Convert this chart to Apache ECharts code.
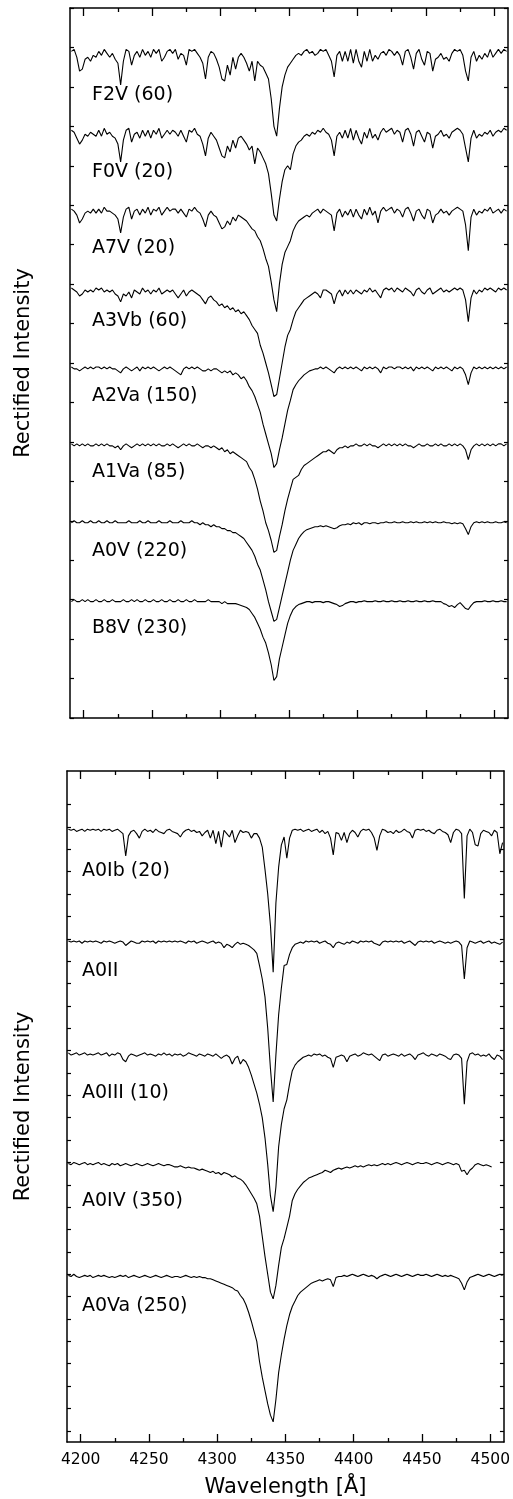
<!DOCTYPE html>
<html>
<head>
<meta charset="utf-8">
<script src="https://cdn.jsdelivr.net/npm/echarts@6.0.0/dist/echarts.min.js"></script>
<style>
html,body{margin:0;padding:0;background:#ffffff;}
#chart{width:513px;height:1499px;}
</style>
</head>
<body>
<div id="chart"></div>
<script>
// ---------------- DATA ----------------
// wavelength grid (Angstrom)
const wavelengths = [
4191,4193,4195,4197,4199,4201,4203,4205,4207,4209,
4211,4213,4215,4217,4219,4221,4223,4225,4227,4229,
4231,4233,4235,4237,4239,4241,4243,4245,4247,4249,
4251,4253,4255,4257,4259,4261,4263,4265,4267,4269,
4271,4273,4275,4277,4279,4281,4283,4285,4287,4289,
4291,4293,4295,4297,4299,4301,4303,4305,4307,4309,
4311,4313,4315,4317,4319,4321,4323,4325,4327,4329,
4331,4333,4335,4337,4339,4341,4343,4345,4347,4349,
4351,4353,4355,4357,4359,4361,4363,4365,4367,4369,
4371,4373,4375,4377,4379,4381,4383,4385,4387,4389,
4391,4393,4395,4397,4399,4401,4403,4405,4407,4409,
4411,4413,4415,4417,4419,4421,4423,4425,4427,4429,
4431,4433,4435,4437,4439,4441,4443,4445,4447,4449,
4451,4453,4455,4457,4459,4461,4463,4465,4467,4469,
4471,4473,4475,4477,4479,4481,4483,4485,4487,4489,
4491,4493,4495,4497,4499,4501,4503,4505,4507,4509];

const xMajorTicks = [4200,4250,4300,4350,4400,4450,4500];
const xMinorTicks = [4225,4275,4325,4375,4425,4475];
const yTicksBottomPanel = [0,0.1,0.2,0.3,0.4,0.5,0.6,0.7,0.8,0.9,1.0,1.1,1.2,1.3,1.4,1.5,1.6,1.7,1.8,1.9,2.0,2.1,2.2,2.3,2.4,2.5,2.6,2.7,2.8];

const topNames = ['F2V (60)','F0V (20)','A7V (20)','A3Vb (60)','A2Va (150)','A1Va (85)','A0V (220)','B8V (230)'];
const topOffsets = [2.4, 2.0, 1.6, 1.2, 0.8, 0.4, 0.0, -0.4];
const bottomNames = ['A0Ib (20)','A0II','A0III (10)','A0IV (350)','A0Va (250)'];
const bottomOffsets = [1.7, 1.2, 0.7, 0.2, -0.3];

// rectified intensities (continuum = 1)
const F2V = [
0.98,0.99,0.95,0.88,0.89,0.94,0.95,0.93,0.96,0.95,
0.98,0.96,0.99,0.97,0.95,0.97,0.94,0.92,0.81,0.93,
0.99,0.98,0.91,0.96,0.98,0.95,0.99,0.96,0.98,0.95,
0.99,0.97,0.99,0.93,0.95,0.98,0.99,0.97,0.99,0.94,
0.97,0.96,0.91,0.99,0.98,0.99,0.97,0.95,0.92,0.84,
0.95,0.98,0.97,0.94,0.90,0.84,0.83,0.91,0.86,0.95,
0.89,0.95,0.97,0.95,0.92,0.88,0.93,0.83,0.93,0.91,
0.90,0.87,0.84,0.74,0.60,0.55,0.69,0.80,0.86,0.90,
0.92,0.94,0.96,0.97,0.96,0.98,0.99,0.97,0.98,0.96,
0.97,0.99,0.98,0.99,0.96,0.93,0.85,0.96,0.98,0.93,
0.98,0.93,0.99,0.92,0.99,0.93,0.90,0.98,0.93,0.99,
0.93,0.96,0.94,0.97,0.98,0.96,0.99,0.98,0.96,0.98,
0.96,0.91,0.98,0.99,0.95,0.89,0.97,0.99,0.94,0.91,
0.98,0.97,0.88,0.94,0.95,0.97,0.94,0.95,0.93,0.97,
0.99,0.98,0.99,0.96,0.88,0.83,0.95,0.98,0.93,0.96,
0.94,0.97,0.95,0.99,0.95,0.97,0.99,0.97,0.99,0.98];
const F0V = [
0.98,0.97,0.94,0.91,0.93,0.96,0.95,0.97,0.96,0.95,
0.98,0.95,0.99,0.96,0.97,0.95,0.94,0.91,0.82,0.93,
0.98,0.99,0.92,0.96,0.97,0.94,0.98,0.95,0.98,0.94,
0.98,0.96,0.99,0.94,0.96,0.98,0.96,0.98,0.97,0.95,
0.98,0.95,0.92,0.98,0.97,0.99,0.96,0.95,0.91,0.85,
0.94,0.97,0.95,0.93,0.89,0.85,0.84,0.90,0.87,0.93,
0.89,0.94,0.95,0.93,0.91,0.88,0.90,0.81,0.89,0.87,
0.84,0.81,0.76,0.66,0.55,0.52,0.63,0.72,0.78,0.80,
0.78,0.86,0.90,0.92,0.93,0.95,0.96,0.95,0.97,0.96,
0.98,0.97,0.99,0.97,0.96,0.93,0.85,0.95,0.97,0.94,
0.98,0.94,0.99,0.93,0.98,0.94,0.91,0.97,0.94,0.99,
0.94,0.96,0.93,0.97,0.99,0.97,0.98,0.99,0.96,0.98,
0.97,0.92,0.98,0.99,0.96,0.90,0.97,0.98,0.95,0.92,
0.97,0.96,0.89,0.95,0.96,0.98,0.95,0.96,0.94,0.97,
0.98,0.99,0.98,0.96,0.89,0.82,0.94,0.98,0.94,0.96,
0.95,0.97,0.96,0.98,0.95,0.97,0.98,0.97,0.99,0.98];
const A7V = [
0.98,0.97,0.95,0.91,0.93,0.96,0.97,0.96,0.98,0.96,
0.98,0.96,0.99,0.97,0.97,0.96,0.95,0.93,0.86,0.94,
0.98,0.99,0.93,0.97,0.98,0.95,0.98,0.96,0.99,0.95,
0.98,0.97,0.99,0.95,0.97,0.99,0.97,0.98,0.98,0.96,
0.98,0.96,0.94,0.98,0.97,0.99,0.97,0.96,0.93,0.89,
0.95,0.97,0.95,0.94,0.91,0.88,0.89,0.92,0.90,0.94,
0.92,0.95,0.94,0.93,0.92,0.90,0.88,0.87,0.84,0.82,
0.78,0.73,0.69,0.61,0.52,0.46,0.60,0.70,0.76,0.79,
0.82,0.87,0.90,0.92,0.93,0.94,0.95,0.94,0.96,0.97,
0.98,0.96,0.98,0.97,0.96,0.95,0.87,0.96,0.98,0.94,
0.97,0.95,0.98,0.94,0.98,0.95,0.93,0.98,0.95,0.99,
0.95,0.97,0.91,0.97,0.99,0.97,0.98,0.99,0.96,0.98,
0.97,0.94,0.98,0.99,0.96,0.92,0.97,0.98,0.95,0.93,
0.98,0.97,0.91,0.95,0.96,0.98,0.96,0.97,0.95,0.97,
0.98,0.99,0.98,0.97,0.90,0.77,0.94,0.98,0.95,0.97,
0.96,0.98,0.97,0.99,0.96,0.97,0.98,0.96,0.98,0.97];
const A3Vb = [
0.98,0.97,0.96,0.94,0.95,0.97,0.96,0.97,0.96,0.98,
0.97,0.98,0.96,0.97,0.96,0.97,0.95,0.94,0.91,0.95,
0.94,0.96,0.93,0.97,0.96,0.95,0.98,0.96,0.97,0.95,
0.97,0.96,0.98,0.95,0.96,0.97,0.96,0.97,0.95,0.93,
0.95,0.97,0.94,0.96,0.97,0.96,0.95,0.94,0.92,0.90,
0.93,0.94,0.92,0.91,0.89,0.90,0.88,0.89,0.87,0.88,
0.86,0.87,0.85,0.86,0.84,0.82,0.79,0.77,0.75,0.69,
0.65,0.60,0.55,0.49,0.43,0.44,0.52,0.60,0.68,0.74,
0.77,0.82,0.86,0.88,0.90,0.92,0.93,0.94,0.95,0.96,
0.95,0.93,0.97,0.97,0.96,0.95,0.90,0.95,0.97,0.94,
0.97,0.95,0.97,0.95,0.97,0.96,0.95,0.97,0.96,0.98,
0.96,0.97,0.95,0.93,0.97,0.98,0.97,0.98,0.96,0.98,
0.97,0.96,0.98,0.97,0.96,0.94,0.97,0.98,0.96,0.95,
0.97,0.98,0.95,0.96,0.97,0.98,0.96,0.97,0.96,0.97,
0.98,0.97,0.98,0.97,0.92,0.81,0.93,0.97,0.95,0.97,
0.96,0.98,0.97,0.98,0.97,0.96,0.98,0.97,0.98,0.97];
const A2Va = [
0.98,0.97,0.97,0.96,0.97,0.98,0.97,0.98,0.97,0.98,
0.98,0.97,0.98,0.97,0.98,0.97,0.97,0.96,0.95,0.97,
0.98,0.97,0.96,0.97,0.98,0.96,0.98,0.97,0.98,0.97,
0.98,0.97,0.96,0.97,0.98,0.97,0.98,0.97,0.96,0.95,
0.94,0.97,0.98,0.97,0.98,0.97,0.98,0.97,0.96,0.96,
0.97,0.96,0.97,0.97,0.96,0.95,0.96,0.95,0.96,0.94,
0.95,0.94,0.92,0.93,0.91,0.88,0.86,0.83,0.79,0.75,
0.69,0.64,0.59,0.54,0.47,0.49,0.56,0.62,0.69,0.76,
0.81,0.865,0.89,0.91,0.925,0.94,0.95,0.96,0.965,0.97,
0.97,0.98,0.97,0.98,0.97,0.96,0.95,0.97,0.98,0.97,
0.98,0.97,0.98,0.97,0.98,0.97,0.96,0.98,0.97,0.98,
0.97,0.98,0.97,0.95,0.98,0.97,0.98,0.98,0.97,0.98,
0.98,0.97,0.98,0.97,0.98,0.96,0.98,0.97,0.98,0.97,
0.98,0.97,0.96,0.98,0.97,0.98,0.97,0.98,0.97,0.96,
0.98,0.97,0.98,0.97,0.94,0.89,0.95,0.98,0.97,0.98,
0.97,0.98,0.97,0.98,0.97,0.98,0.97,0.98,0.97,0.98];
const A1Va = [
0.99,0.98,0.99,0.98,0.99,0.98,0.99,0.98,0.98,0.99,
0.98,0.99,0.98,0.99,0.98,0.98,0.97,0.98,0.96,0.98,
0.99,0.98,0.97,0.98,0.99,0.98,0.99,0.98,0.99,0.98,
0.99,0.98,0.99,0.98,0.98,0.99,0.98,0.99,0.98,0.97,
0.98,0.99,0.98,0.99,0.98,0.98,0.99,0.98,0.97,0.98,
0.98,0.97,0.98,0.97,0.96,0.97,0.95,0.96,0.94,0.95,
0.94,0.93,0.92,0.91,0.90,0.87,0.85,0.81,0.76,0.70,
0.65,0.59,0.55,0.50,0.44,0.45,0.52,0.58,0.65,0.71,
0.76,0.81,0.82,0.83,0.86,0.88,0.89,0.90,0.91,0.92,
0.93,0.94,0.95,0.95,0.96,0.95,0.94,0.96,0.97,0.97,
0.98,0.97,0.98,0.98,0.99,0.98,0.98,0.99,0.98,0.99,
0.98,0.98,0.97,0.98,0.99,0.98,0.99,0.98,0.99,0.98,
0.99,0.98,0.99,0.98,0.98,0.97,0.98,0.99,0.98,0.98,
0.99,0.98,0.98,0.99,0.98,0.99,0.98,0.98,0.99,0.98,
0.99,0.98,0.99,0.98,0.96,0.91,0.96,0.98,0.99,0.98,
0.99,0.98,0.99,0.98,0.99,0.98,0.99,0.99,0.98,0.99];
const A0V = [
0.99,1.00,0.99,0.99,1.00,0.99,0.99,1.00,0.99,0.99,
1.00,0.99,0.99,1.00,0.99,0.99,1.00,0.99,0.99,0.99,
0.99,1.00,0.99,0.99,0.99,1.00,0.99,0.99,1.00,0.99,
0.99,0.99,1.00,0.99,0.99,0.99,1.00,0.99,0.99,0.99,
1.00,0.99,0.99,0.99,1.00,0.99,0.99,0.98,0.99,0.98,
0.98,0.97,0.98,0.97,0.97,0.96,0.96,0.95,0.95,0.94,
0.94,0.93,0.92,0.91,0.89,0.87,0.85,0.82,0.78,0.75,
0.70,0.65,0.59,0.54,0.49,0.50,0.56,0.62,0.68,0.74,
0.80,0.85,0.88,0.91,0.93,0.945,0.955,0.96,0.965,0.97,
0.97,0.975,0.97,0.975,0.97,0.965,0.96,0.965,0.975,0.98,
0.98,0.985,0.98,0.99,0.985,0.99,0.98,0.99,0.99,0.985,
0.99,0.99,0.985,0.99,0.99,0.995,0.99,0.99,0.995,0.99,
0.99,0.995,0.99,0.99,0.995,0.99,0.995,0.99,0.99,0.995,
0.99,0.995,0.99,0.995,0.99,0.99,0.995,0.99,0.99,0.985,
0.99,0.985,0.99,0.985,0.96,0.93,0.97,0.99,0.995,0.99,
0.995,0.99,0.995,0.99,0.99,0.995,0.99,0.99,0.995,0.99];
const B8V = [
0.99,1.00,0.99,0.99,1.00,0.99,1.00,0.99,0.99,1.00,
0.99,0.99,1.00,0.99,0.99,1.00,0.99,0.99,0.99,1.00,
0.99,0.99,1.00,0.99,1.00,0.99,0.99,1.00,0.99,0.99,
1.00,0.99,0.99,1.00,0.99,0.99,1.00,0.99,0.99,1.00,
0.99,0.99,1.00,0.99,0.99,1.00,0.99,0.99,0.99,0.99,
1.00,0.99,0.99,0.99,0.99,0.98,0.99,0.98,0.98,0.98,
0.98,0.975,0.97,0.965,0.96,0.95,0.93,0.91,0.88,0.85,
0.81,0.78,0.73,0.67,0.59,0.61,0.70,0.76,0.82,0.88,
0.92,0.95,0.965,0.975,0.98,0.985,0.99,0.99,0.985,0.99,
0.99,0.99,0.985,0.99,0.99,0.985,0.98,0.975,0.965,0.97,
0.98,0.985,0.99,0.99,0.985,0.99,0.99,0.995,0.99,0.99,
0.99,0.995,0.99,0.99,0.995,0.99,0.99,0.995,0.99,0.99,
0.995,0.99,0.99,0.995,0.99,0.99,0.995,0.99,0.99,0.995,
0.99,0.99,0.995,0.99,0.99,0.99,0.98,0.975,0.965,0.97,
0.96,0.975,0.985,0.97,0.955,0.95,0.97,0.985,0.99,0.99,
0.99,0.995,0.99,0.99,0.995,0.99,0.99,0.995,0.99,0.99];

const A0Ib = [
0.99,0.985,0.99,0.98,0.985,0.99,0.98,0.99,0.985,0.99,
0.985,0.99,0.98,0.99,0.985,0.99,0.98,0.985,0.99,0.98,
0.97,0.87,0.96,0.98,0.985,0.97,0.95,0.98,0.99,0.98,
0.985,0.975,0.99,0.98,0.975,0.97,0.985,0.99,0.98,0.975,
0.97,0.955,0.975,0.985,0.99,0.98,0.985,0.975,0.98,0.96,
0.975,0.985,0.95,0.985,0.925,0.98,0.91,0.985,0.97,0.955,
0.985,0.93,0.96,0.985,0.975,0.98,0.975,0.95,0.97,0.97,
0.95,0.91,0.81,0.70,0.56,0.35,0.66,0.82,0.92,0.955,
0.86,0.95,0.985,0.99,0.985,0.99,0.98,0.985,0.99,0.98,
0.985,0.99,0.975,0.985,0.97,0.98,0.95,0.875,0.975,0.97,
0.94,0.975,0.93,0.97,0.985,0.975,0.955,0.98,0.99,0.985,
0.99,0.975,0.95,0.895,0.96,0.99,0.985,0.975,0.98,0.97,
0.985,0.975,0.98,0.99,0.98,0.975,0.95,0.985,0.99,0.985,
0.99,0.98,0.985,0.975,0.97,0.985,0.99,0.98,0.975,0.965,
0.93,0.975,0.99,0.985,0.97,0.68,0.96,0.99,0.975,0.92,
0.915,0.97,0.985,0.98,0.975,0.96,0.985,0.975,0.88,0.93];
const A0II = [
0.99,0.985,0.99,0.985,0.99,0.98,0.99,0.985,0.99,0.985,
0.99,0.985,0.98,0.99,0.985,0.99,0.985,0.98,0.985,0.99,
0.985,0.97,0.98,0.99,0.985,0.98,0.98,0.99,0.985,0.99,
0.985,0.99,0.98,0.99,0.985,0.99,0.985,0.99,0.985,0.99,
0.985,0.99,0.985,0.98,0.99,0.985,0.99,0.98,0.985,0.99,
0.985,0.98,0.985,0.99,0.98,0.985,0.98,0.96,0.975,0.97,
0.96,0.975,0.985,0.975,0.98,0.975,0.97,0.96,0.95,0.935,
0.88,0.82,0.74,0.60,0.42,0.27,0.48,0.66,0.78,0.88,
0.885,0.93,0.96,0.975,0.98,0.985,0.98,0.99,0.985,0.99,
0.985,0.99,0.98,0.985,0.99,0.98,0.975,0.96,0.98,0.985,
0.98,0.975,0.985,0.98,0.99,0.985,0.98,0.99,0.985,0.99,
0.985,0.99,0.98,0.975,0.97,0.985,0.99,0.985,0.99,0.985,
0.99,0.985,0.99,0.98,0.985,0.99,0.98,0.97,0.985,0.99,
0.985,0.99,0.985,0.99,0.98,0.985,0.99,0.985,0.98,0.985,
0.98,0.985,0.99,0.985,0.97,0.82,0.96,0.99,0.985,0.98,
0.985,0.99,0.98,0.985,0.99,0.98,0.985,0.98,0.975,0.985];
const A0III = [
0.99,0.98,0.985,0.99,0.98,0.985,0.99,0.98,0.985,0.98,
0.985,0.99,0.98,0.985,0.99,0.975,0.985,0.98,0.99,0.985,
0.96,0.95,0.975,0.985,0.98,0.975,0.98,0.985,0.99,0.98,
0.985,0.98,0.975,0.985,0.98,0.99,0.98,0.985,0.975,0.985,
0.98,0.985,0.975,0.98,0.99,0.985,0.98,0.975,0.985,0.98,
0.975,0.985,0.98,0.975,0.985,0.975,0.965,0.975,0.98,0.97,
0.94,0.965,0.975,0.94,0.96,0.95,0.925,0.89,0.85,0.81,
0.76,0.70,0.61,0.49,0.35,0.28,0.39,0.57,0.67,0.74,
0.78,0.85,0.91,0.935,0.95,0.96,0.97,0.975,0.98,0.975,
0.985,0.98,0.985,0.975,0.98,0.97,0.965,0.925,0.97,0.975,
0.98,0.975,0.95,0.975,0.98,0.985,0.975,0.98,0.99,0.985,
0.98,0.985,0.975,0.965,0.955,0.98,0.985,0.975,0.98,0.985,
0.98,0.975,0.985,0.975,0.98,0.985,0.975,0.96,0.98,0.985,
0.99,0.98,0.975,0.985,0.98,0.975,0.985,0.98,0.975,0.965,
0.96,0.98,0.985,0.98,0.965,0.76,0.95,0.985,0.99,0.98,
0.985,0.975,0.98,0.975,0.985,0.97,0.96,0.98,0.975,0.96];
const A0IV = [
0.995,0.99,1.0,0.995,0.99,0.995,1.0,0.99,0.995,0.99,
0.995,1.0,0.99,0.995,0.99,0.985,0.995,0.99,0.995,0.985,
0.99,0.995,0.99,0.985,0.99,0.995,0.99,0.985,0.99,0.995,
0.99,0.985,0.99,0.995,0.99,0.985,0.99,0.99,0.985,0.98,
0.98,0.985,0.98,0.975,0.98,0.975,0.975,0.97,0.965,0.97,
0.965,0.96,0.955,0.96,0.95,0.955,0.945,0.955,0.95,0.945,
0.935,0.94,0.93,0.925,0.915,0.90,0.88,0.86,0.84,0.815,
0.76,0.67,0.58,0.50,0.42,0.39,0.45,0.54,0.62,0.66,
0.71,0.76,0.83,0.86,0.88,0.895,0.91,0.92,0.93,0.935,
0.94,0.945,0.95,0.955,0.965,0.96,0.955,0.965,0.97,0.975,
0.97,0.975,0.98,0.975,0.98,0.985,0.98,0.985,0.98,0.985,
0.99,0.985,0.99,0.985,0.99,0.995,0.99,0.995,0.99,0.995,
1.0,0.995,0.99,0.995,1.0,0.995,0.99,0.995,1.0,0.995,
0.995,1.0,0.995,0.99,0.995,1.0,0.995,0.99,0.995,1.0,
0.995,0.99,0.995,0.99,0.96,0.965,0.945,0.965,0.975,0.99,
0.995,0.99,0.985,0.99,0.985,0.98,null,null,null,null];
const A0Va = [
0.995,0.99,1.0,0.99,0.985,0.99,0.995,0.99,0.995,0.985,
0.99,0.995,0.99,0.995,0.99,0.985,0.99,0.985,0.99,0.995,
0.99,0.995,0.985,0.99,0.995,0.99,0.985,0.99,0.995,0.99,
0.985,0.99,0.995,0.99,0.985,0.99,0.995,0.99,0.985,0.99,
0.99,0.985,0.99,0.995,0.99,0.985,0.99,0.985,0.99,0.985,
0.985,0.98,0.98,0.975,0.97,0.965,0.96,0.955,0.95,0.945,
0.94,0.93,0.925,0.905,0.89,0.865,0.83,0.79,0.745,0.70,
0.61,0.54,0.48,0.42,0.37,0.34,0.44,0.56,0.64,0.71,
0.77,0.82,0.856,0.88,0.905,0.92,0.93,0.94,0.95,0.96,
0.965,0.97,0.975,0.97,0.975,0.98,0.975,0.945,0.985,0.99,
0.99,0.995,0.99,0.995,1.0,0.995,0.99,0.995,1.0,0.995,
0.99,0.995,0.99,0.98,0.99,0.995,1.0,0.995,0.99,0.995,
1.0,0.995,0.99,0.995,1.0,0.995,0.99,0.995,1.0,0.995,
0.995,1.0,0.995,0.99,0.995,1.0,0.995,0.99,0.995,0.99,
0.995,0.99,0.985,0.98,0.96,0.93,0.965,0.985,0.99,0.995,
1.0,0.995,0.99,0.995,1.0,0.995,0.99,0.995,1.0,0.995];

const topSpectra = [F2V, F0V, A7V, A3Vb, A2Va, A1Va, A0V, B8V];
const bottomSpectra = [A0Ib, A0II, A0III, A0IV, A0Va];

// ---------------- LAYOUT / STYLE ----------------
const FONT = '"DejaVu Sans", "Liberation Sans", sans-serif';
const topLabelY = [95.5, 172.5, 248, 321, 396, 472, 551, 628];
const bottomLabelY = [871, 971, 1093, 1201, 1306];

function toPairs(values, offset) {
  const out = [];
  for (let i = 0; i < wavelengths.length; i++) {
    if (values[i] == null) continue;
    out.push([wavelengths[i], Math.round((values[i] + offset) * 10000) / 10000]);
  }
  return out;
}

function xAxesFor(g, withLabels) {
  const base = {type: 'value', gridIndex: g, min: 4190, max: 4510, splitLine: {show: false}, axisPointer: {show: false}};
  const tickStyle = {color: '#000', width: 1.3};
  return [
    Object.assign({}, base, {
      position: 'bottom',
      axisLine: {show: true, onZero: false, lineStyle: {color: '#000', width: 1.5}},
      axisTick: {show: true, inside: true, length: 8, customValues: xMajorTicks, lineStyle: tickStyle},
      axisLabel: {show: withLabels, customValues: xMajorTicks, margin: 10, color: '#000', fontSize: 15.5, fontFamily: FONT,
        formatter: function (v) { return String(Math.round(v)); }},
      name: withLabels ? 'Wavelength [Å]' : '',
      nameLocation: 'middle', nameGap: 35,
      nameTextStyle: {color: '#000', fontSize: 21, fontFamily: FONT}
    }),
    Object.assign({}, base, {
      position: 'bottom',
      axisLine: {show: false, onZero: false},
      axisTick: {show: true, inside: true, length: 4, customValues: xMinorTicks, lineStyle: tickStyle},
      axisLabel: {show: false}
    }),
    Object.assign({}, base, {
      position: 'top',
      axisLine: {show: true, onZero: false, lineStyle: {color: '#000', width: 1.5}},
      axisTick: {show: true, inside: true, length: 8, customValues: xMajorTicks, lineStyle: tickStyle},
      axisLabel: {show: false}
    }),
    Object.assign({}, base, {
      position: 'top',
      axisLine: {show: false, onZero: false},
      axisTick: {show: true, inside: true, length: 4, customValues: xMinorTicks, lineStyle: tickStyle},
      axisLabel: {show: false}
    })
  ];
}

function yAxisFor(g, pos, extra) {
  return Object.assign({
    type: 'value', gridIndex: g, position: pos,
    axisLine: {show: true, onZero: false, lineStyle: {color: '#000', width: 1.5}},
    axisTick: {show: true, inside: true, length: 4, lineStyle: {color: '#000', width: 1.2}},
    axisLabel: {show: false},
    splitLine: {show: false},
    axisPointer: {show: false}
  }, extra);
}

const yName = {
  name: 'Rectified Intensity', nameLocation: 'middle', nameRotate: 90,
  nameTextStyle: {color: '#000', fontSize: 21, fontFamily: FONT}
};

const series = [];
topSpectra.forEach((s, i) => {
  series.push({type: 'line', xAxisIndex: 0, yAxisIndex: 0, data: toPairs(s, topOffsets[i]),
    showSymbol: false, symbol: 'none', lineStyle: {color: '#000', width: 1.1}, silent: true});
});
bottomSpectra.forEach((s, i) => {
  series.push({type: 'line', xAxisIndex: 4, yAxisIndex: 2, data: toPairs(s, bottomOffsets[i]),
    showSymbol: false, symbol: 'none', lineStyle: {color: '#000', width: 1.1}, silent: true});
});

const graphic = [];
topNames.forEach((n, i) => graphic.push({type: 'text', x: 92, y: topLabelY[i], silent: true,
  style: {text: n, fill: '#000', fontSize: 19, fontFamily: FONT, align: 'left', verticalAlign: 'middle'}}));
bottomNames.forEach((n, i) => graphic.push({type: 'text', x: 82, y: bottomLabelY[i], silent: true,
  style: {text: n, fill: '#000', fontSize: 19, fontFamily: FONT, align: 'left', verticalAlign: 'middle'}}));

const option = {
  animation: false,
  backgroundColor: '#ffffff',
  grid: [
    {left: 70, right: 5, top: 8, height: 710},
    {left: 67, right: 6.5, top: 771, height: 671}
  ],
  xAxis: [].concat(xAxesFor(0, false), xAxesFor(1, true)),
  yAxis: [
    yAxisFor(0, 'left', Object.assign({min: 0, max: 3.6, interval: 0.2, nameGap: 36}, yName)),
    yAxisFor(0, 'right', {min: 0, max: 3.6, interval: 0.2}),
    yAxisFor(1, 'left', Object.assign({min: -0.05, max: 2.95, nameGap: 33,
      axisTick: {show: true, inside: true, length: 4, customValues: yTicksBottomPanel, lineStyle: {color: '#000', width: 1.2}}}, yName)),
    yAxisFor(1, 'right', {min: -0.05, max: 2.95,
      axisTick: {show: true, inside: true, length: 4, customValues: yTicksBottomPanel, lineStyle: {color: '#000', width: 1.2}}})
  ],
  graphic: graphic,
  series: series
};

const chart = echarts.init(document.getElementById('chart'), null, {renderer: 'canvas'});
chart.setOption(option);
</script>
</body>
</html>
